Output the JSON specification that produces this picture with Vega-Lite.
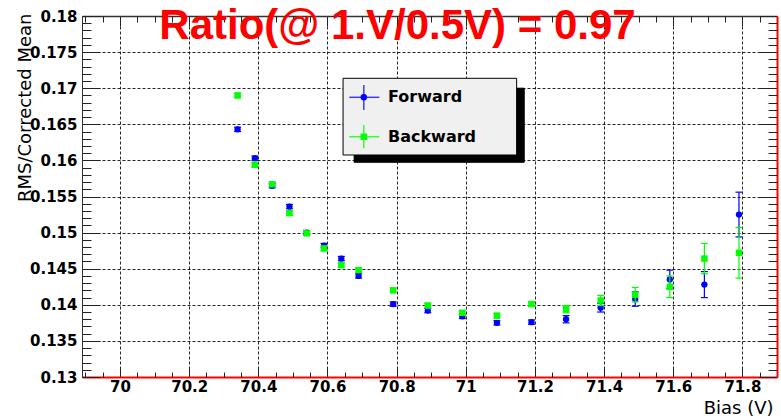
{
  "$schema": "https://vega.github.io/schema/vega-lite/v6.json",
  "width": 695,
  "height": 361,
  "autosize": {"type": "none"},
  "padding": {"left": 82, "top": 16, "right": 4, "bottom": 42},
  "background": "#ffffff",
  "config": {
    "view": {"stroke": null},
    "axis": {"labelFont": "DejaVu Sans", "labelFontWeight": "bold", "labelFontSize": 15, "labelColor": "#000000", "tickColor": "#222222", "tickWidth": 1, "grid": false, "domain": false, "labelFlush": false, "labelOverlap": false, "title": null}
  },
  "title": {"text": "Ratio(@ 1.V/0.5V) = 0.97", "font": "Liberation Sans", "fontSize": 42, "fontWeight": "bold", "color": "#ff0000", "anchor": "middle", "frame": "group", "baseline": "alphabetic", "dx": -32, "offset": -24, "dy": 48},
  "datasets": {
    "pts": [
      {"s": "F", "b": 70.34, "v": 0.1643, "lo": 0.1640, "hi": 0.1646},
      {"s": "F", "b": 70.39, "v": 0.1603, "lo": 0.1600, "hi": 0.1606},
      {"s": "F", "b": 70.44, "v": 0.1565, "lo": 0.1562, "hi": 0.1568},
      {"s": "F", "b": 70.49, "v": 0.1536, "lo": 0.1533, "hi": 0.1539},
      {"s": "F", "b": 70.54, "v": 0.1500, "lo": 0.1497, "hi": 0.1503},
      {"s": "F", "b": 70.59, "v": 0.1482, "lo": 0.1479, "hi": 0.1485},
      {"s": "F", "b": 70.64, "v": 0.1464, "lo": 0.1461, "hi": 0.1467},
      {"s": "F", "b": 70.69, "v": 0.1440, "lo": 0.1437, "hi": 0.1443},
      {"s": "F", "b": 70.79, "v": 0.1401, "lo": 0.1398, "hi": 0.1404},
      {"s": "F", "b": 70.89, "v": 0.1392, "lo": 0.1389, "hi": 0.1395},
      {"s": "F", "b": 70.99, "v": 0.1384, "lo": 0.1381, "hi": 0.1387},
      {"s": "F", "b": 71.09, "v": 0.1375, "lo": 0.1372, "hi": 0.1378},
      {"s": "F", "b": 71.19, "v": 0.1376, "lo": 0.1373, "hi": 0.1379},
      {"s": "F", "b": 71.29, "v": 0.1380, "lo": 0.1375, "hi": 0.1385},
      {"s": "F", "b": 71.39, "v": 0.1396, "lo": 0.1390, "hi": 0.1402},
      {"s": "F", "b": 71.49, "v": 0.1408, "lo": 0.1398, "hi": 0.1418},
      {"s": "F", "b": 71.59, "v": 0.1435, "lo": 0.1422, "hi": 0.1448},
      {"s": "F", "b": 71.69, "v": 0.1428, "lo": 0.1410, "hi": 0.1446},
      {"s": "F", "b": 71.79, "v": 0.1525, "lo": 0.1494, "hi": 0.1556},
      {"s": "B", "b": 70.34, "v": 0.1690, "lo": 0.1687, "hi": 0.1693},
      {"s": "B", "b": 70.39, "v": 0.1594, "lo": 0.1591, "hi": 0.1597},
      {"s": "B", "b": 70.44, "v": 0.1567, "lo": 0.1564, "hi": 0.1570},
      {"s": "B", "b": 70.49, "v": 0.1527, "lo": 0.1524, "hi": 0.1530},
      {"s": "B", "b": 70.54, "v": 0.1499, "lo": 0.1496, "hi": 0.1502},
      {"s": "B", "b": 70.59, "v": 0.1478, "lo": 0.1475, "hi": 0.1481},
      {"s": "B", "b": 70.64, "v": 0.1455, "lo": 0.1452, "hi": 0.1458},
      {"s": "B", "b": 70.69, "v": 0.1448, "lo": 0.1445, "hi": 0.1451},
      {"s": "B", "b": 70.79, "v": 0.1420, "lo": 0.1417, "hi": 0.1423},
      {"s": "B", "b": 70.89, "v": 0.1399, "lo": 0.1396, "hi": 0.1402},
      {"s": "B", "b": 70.99, "v": 0.1389, "lo": 0.1386, "hi": 0.1392},
      {"s": "B", "b": 71.09, "v": 0.1385, "lo": 0.1382, "hi": 0.1388},
      {"s": "B", "b": 71.19, "v": 0.1401, "lo": 0.1398, "hi": 0.1404},
      {"s": "B", "b": 71.29, "v": 0.1394, "lo": 0.1389, "hi": 0.1399},
      {"s": "B", "b": 71.39, "v": 0.1406, "lo": 0.1399, "hi": 0.1413},
      {"s": "B", "b": 71.49, "v": 0.1414, "lo": 0.1404, "hi": 0.1424},
      {"s": "B", "b": 71.59, "v": 0.1425, "lo": 0.1410, "hi": 0.1440},
      {"s": "B", "b": 71.69, "v": 0.1464, "lo": 0.1443, "hi": 0.1485},
      {"s": "B", "b": 71.79, "v": 0.1472, "lo": 0.1437, "hi": 0.1507}
    ],
    "legbox": [
      {"k": "shadow", "x": 70.677, "x2": 71.169, "y": 0.1700, "y2": 0.15974, "fill": "#000000", "stroke": "#000000"},
      {"k": "box", "x": 70.645, "x2": 71.147, "y": 0.17137, "y2": 0.16075, "fill": "#f0f0f0", "stroke": "#000000"}
    ],
    "leglines": [
      {"c": "#3c3cff", "x": 70.663, "x2": 70.75, "y": 0.16874, "y2": 0.16874},
      {"c": "#3c3cff", "x": 70.705, "x2": 70.705, "y": 0.17044, "y2": 0.16698},
      {"c": "#33ff33", "x": 70.663, "x2": 70.75, "y": 0.16328, "y2": 0.16328},
      {"c": "#33ff33", "x": 70.705, "x2": 70.705, "y": 0.1649, "y2": 0.16168}
    ],
    "legmarks": [
      {"label": "Forward", "shape": "circle", "c": "#0000ff", "x": 70.705, "tx": 70.775, "y": 0.16874},
      {"label": "Backward", "shape": "square", "c": "#00ff00", "x": 70.705, "tx": 70.775, "y": 0.16328}
    ]
  },
  "resolve": {"axis": {"x": "independent", "y": "independent"}},
  "layer": [
    {
      "data": {"name": "pts"},
      "transform": [{"filter": "datum.s === 'F'"}],
      "mark": {"type": "rule", "color": "#0000ff", "strokeWidth": 1.2},
      "encoding": {
        "x": {"field": "b", "type": "quantitative", "scale": {"domain": [69.89, 71.9], "nice": false, "zero": false},
          "axis": {"orient": "bottom", "values": [70, 70.2, 70.4, 70.6, 70.8, 71, 71.2, 71.4, 71.6, 71.8], "format": "~g", "grid": true, "gridColor": "#000000", "gridDash": [3, 2], "gridWidth": 1, "gridOpacity": 0.85, "tickSize": -10, "labelPadding": 12, "domain": true, "domainColor": "#ff0000", "domainWidth": 2,
            "title": "Bias (V)", "titleFont": "DejaVu Sans", "titleFontSize": 18, "titleFontWeight": "normal", "titleColor": "#000000", "titleX": 691, "titleY": 36, "titleAlign": "right", "titleBaseline": "alphabetic", "titleAnchor": null}},
        "y": {"field": "lo", "type": "quantitative", "scale": {"domain": [0.13, 0.18], "nice": false, "zero": false},
          "axis": {"orient": "left", "values": [0.13, 0.135, 0.14, 0.145, 0.15, 0.155, 0.16, 0.165, 0.17, 0.175, 0.18], "format": "~g", "grid": true, "gridColor": "#000000", "gridDash": [3, 2], "gridWidth": 1, "gridOpacity": 0.85, "tickSize": -18, "labelPadding": 23, "domain": true, "domainColor": "#333333", "domainWidth": 1,
            "title": "RMS/Corrected Mean", "titleFont": "DejaVu Sans", "titleFontSize": 18, "titleFontWeight": "normal", "titleColor": "#000000", "titleAngle": -90, "titleX": -57, "titleY": -3, "titleAlign": "right", "titleBaseline": "middle", "titleAnchor": null}},
        "y2": {"field": "hi"}
      }
    },
    {
      "data": {"name": "pts"},
      "transform": [{"filter": "datum.s === 'F'"}],
      "mark": {"type": "point", "shape": "M -1 0 L 1 0", "filled": false, "color": "#0000ff", "strokeWidth": 1.2, "size": 49, "opacity": 1},
      "encoding": {
        "x": {"field": "b", "type": "quantitative", "scale": {"domain": [69.89, 71.9], "nice": false, "zero": false},
          "axis": {"orient": "bottom", "values": [69.9, 69.95, 70.05, 70.1, 70.15, 70.25, 70.3, 70.35, 70.45, 70.5, 70.55, 70.65, 70.7, 70.75, 70.85, 70.9, 70.95, 71.05, 71.1, 71.15, 71.25, 71.3, 71.35, 71.45, 71.5, 71.55, 71.65, 71.7, 71.75, 71.85], "labels": false, "tickSize": -5}},
        "y": {"field": "lo", "type": "quantitative", "scale": {"domain": [0.13, 0.18], "nice": false, "zero": false},
          "axis": {"orient": "left", "values": [0.131, 0.132, 0.133, 0.134, 0.136, 0.137, 0.138, 0.139, 0.141, 0.142, 0.143, 0.144, 0.146, 0.147, 0.148, 0.149, 0.151, 0.152, 0.153, 0.154, 0.156, 0.157, 0.158, 0.159, 0.161, 0.162, 0.163, 0.164, 0.166, 0.167, 0.168, 0.169, 0.171, 0.172, 0.173, 0.174, 0.176, 0.177, 0.178, 0.179], "labels": false, "tickSize": -9}}
      }
    },
    {
      "data": {"name": "pts"},
      "transform": [{"filter": "datum.s === 'F'"}],
      "mark": {"type": "point", "shape": "M -1 0 L 1 0", "filled": false, "color": "#0000ff", "strokeWidth": 1.2, "size": 49, "opacity": 1},
      "encoding": {
        "x": {"field": "b", "type": "quantitative", "scale": {"domain": [69.89, 71.9], "nice": false, "zero": false},
          "axis": {"orient": "top", "values": [70, 70.2, 70.4, 70.6, 70.8, 71, 71.2, 71.4, 71.6, 71.8], "labels": false, "tickSize": -10, "domain": true, "domainColor": "#333333", "domainWidth": 1.5}},
        "y": {"field": "hi", "type": "quantitative", "scale": {"domain": [0.13, 0.18], "nice": false, "zero": false},
          "axis": {"orient": "right", "values": [0.13, 0.135, 0.14, 0.145, 0.15, 0.155, 0.16, 0.165, 0.17, 0.175, 0.18], "labels": false, "tickSize": -18, "domain": true, "domainColor": "#ff0000", "domainWidth": 2}}
      }
    },
    {
      "data": {"name": "pts"},
      "transform": [{"filter": "datum.s === 'F'"}],
      "mark": {"type": "point", "shape": "circle", "filled": true, "color": "#0000ff", "size": 40, "opacity": 1},
      "encoding": {
        "x": {"field": "b", "type": "quantitative", "scale": {"domain": [69.89, 71.9], "nice": false, "zero": false},
          "axis": {"orient": "top", "values": [69.9, 69.95, 70.05, 70.1, 70.15, 70.25, 70.3, 70.35, 70.45, 70.5, 70.55, 70.65, 70.7, 70.75, 70.85, 70.9, 70.95, 71.05, 71.1, 71.15, 71.25, 71.3, 71.35, 71.45, 71.5, 71.55, 71.65, 71.7, 71.75, 71.85], "labels": false, "tickSize": -6}},
        "y": {"field": "v", "type": "quantitative", "scale": {"domain": [0.13, 0.18], "nice": false, "zero": false},
          "axis": {"orient": "right", "values": [0.131, 0.132, 0.133, 0.134, 0.136, 0.137, 0.138, 0.139, 0.141, 0.142, 0.143, 0.144, 0.146, 0.147, 0.148, 0.149, 0.151, 0.152, 0.153, 0.154, 0.156, 0.157, 0.158, 0.159, 0.161, 0.162, 0.163, 0.164, 0.166, 0.167, 0.168, 0.169, 0.171, 0.172, 0.173, 0.174, 0.176, 0.177, 0.178, 0.179], "labels": false, "tickSize": -9}}
      }
    },
    {
      "data": {"name": "pts"},
      "transform": [{"filter": "datum.s === 'B'"}],
      "mark": {"type": "rule", "color": "#00ff00", "strokeWidth": 1.2},
      "encoding": {
        "x": {"field": "b", "type": "quantitative", "scale": {"domain": [69.89, 71.9], "nice": false, "zero": false}, "axis": null},
        "y": {"field": "lo", "type": "quantitative", "scale": {"domain": [0.13, 0.18], "nice": false, "zero": false}, "axis": null},
        "y2": {"field": "hi"}
      }
    },
    {
      "data": {"name": "pts"},
      "transform": [{"filter": "datum.s === 'B'"}],
      "mark": {"type": "point", "shape": "M -1 0 L 1 0", "filled": false, "color": "#00ff00", "strokeWidth": 1.2, "size": 49, "opacity": 1},
      "encoding": {
        "x": {"field": "b", "type": "quantitative", "scale": {"domain": [69.89, 71.9], "nice": false, "zero": false}, "axis": null},
        "y": {"field": "lo", "type": "quantitative", "scale": {"domain": [0.13, 0.18], "nice": false, "zero": false}, "axis": null}
      }
    },
    {
      "data": {"name": "pts"},
      "transform": [{"filter": "datum.s === 'B'"}],
      "mark": {"type": "point", "shape": "M -1 0 L 1 0", "filled": false, "color": "#00ff00", "strokeWidth": 1.2, "size": 49, "opacity": 1},
      "encoding": {
        "x": {"field": "b", "type": "quantitative", "scale": {"domain": [69.89, 71.9], "nice": false, "zero": false}, "axis": null},
        "y": {"field": "hi", "type": "quantitative", "scale": {"domain": [0.13, 0.18], "nice": false, "zero": false}, "axis": null}
      }
    },
    {
      "data": {"name": "pts"},
      "transform": [{"filter": "datum.s === 'B'"}],
      "mark": {"type": "point", "shape": "square", "filled": true, "color": "#00ff00", "size": 42, "opacity": 1},
      "encoding": {
        "x": {"field": "b", "type": "quantitative", "scale": {"domain": [69.89, 71.9], "nice": false, "zero": false}, "axis": null},
        "y": {"field": "v", "type": "quantitative", "scale": {"domain": [0.13, 0.18], "nice": false, "zero": false}, "axis": null}
      }
    },
    {
      "data": {"name": "legbox"},
      "mark": {"type": "rect", "strokeWidth": 1},
      "encoding": {
        "x": {"field": "x", "type": "quantitative", "scale": {"domain": [69.89, 71.9], "nice": false, "zero": false}, "axis": null},
        "x2": {"field": "x2"},
        "y": {"field": "y", "type": "quantitative", "scale": {"domain": [0.13, 0.18], "nice": false, "zero": false}, "axis": null},
        "y2": {"field": "y2"},
        "fill": {"field": "fill", "type": "nominal", "scale": null},
        "stroke": {"field": "stroke", "type": "nominal", "scale": null}
      }
    },
    {
      "data": {"name": "leglines"},
      "mark": {"type": "rule", "strokeWidth": 1.5},
      "encoding": {
        "x": {"field": "x", "type": "quantitative", "scale": {"domain": [69.89, 71.9], "nice": false, "zero": false}, "axis": null},
        "x2": {"field": "x2"},
        "y": {"field": "y", "type": "quantitative", "scale": {"domain": [0.13, 0.18], "nice": false, "zero": false}, "axis": null},
        "y2": {"field": "y2"},
        "color": {"field": "c", "type": "nominal", "scale": null}
      }
    },
    {
      "data": {"name": "legmarks"},
      "mark": {"type": "point", "filled": true, "size": 42, "opacity": 1},
      "encoding": {
        "x": {"field": "x", "type": "quantitative", "scale": {"domain": [69.89, 71.9], "nice": false, "zero": false}, "axis": null},
        "y": {"field": "y", "type": "quantitative", "scale": {"domain": [0.13, 0.18], "nice": false, "zero": false}, "axis": null},
        "shape": {"field": "shape", "type": "nominal", "scale": null},
        "color": {"field": "c", "type": "nominal", "scale": null}
      }
    },
    {
      "data": {"name": "legmarks"},
      "mark": {"type": "text", "align": "left", "baseline": "middle", "font": "DejaVu Sans", "fontWeight": "bold", "fontSize": 16, "color": "#000000"},
      "encoding": {
        "x": {"field": "tx", "type": "quantitative", "scale": {"domain": [69.89, 71.9], "nice": false, "zero": false}, "axis": null},
        "y": {"field": "y", "type": "quantitative", "scale": {"domain": [0.13, 0.18], "nice": false, "zero": false}, "axis": null},
        "text": {"field": "label"}
      }
    }
  ]
}
